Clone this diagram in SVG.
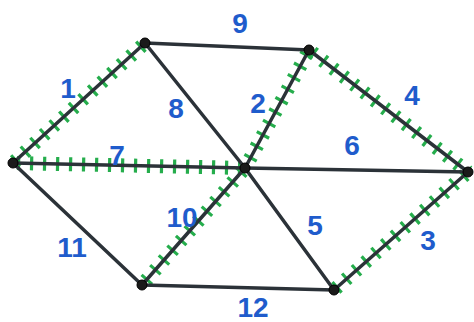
<svg xmlns="http://www.w3.org/2000/svg" width="474" height="322" viewBox="0 0 474 322">
<style>
.e{stroke:#2b3238;stroke-width:3.5;stroke-linecap:round;fill:none}
.h{stroke:#25ad4c;stroke-width:14;stroke-dasharray:3.2 9.8;stroke-dashoffset:-4;fill:none}
.n{fill:#1a1a1a;stroke:#000;stroke-width:1}
.l{font-family:"Liberation Sans",Arial,sans-serif;font-weight:bold;font-size:28px;fill:#1f5ccc;text-anchor:middle;dominant-baseline:central}
</style>
<rect width="474" height="322" fill="#fff"/>
<g id="connectors">
<g id="hatches">
<line class="h" x1="145" y1="43" x2="13" y2="163"/>
<line class="h" x1="309" y1="50" x2="245" y2="168"/>
<line class="h" x1="309" y1="50" x2="468" y2="172"/>
<line class="h" x1="13" y1="163" x2="245" y2="168"/>
<line class="h" x1="245" y1="168" x2="142" y2="285"/>
<line class="h" x1="468" y1="172" x2="334" y2="290"/>
</g>
<line class="e" x1="145" y1="43" x2="309" y2="50"/>
<line class="e" x1="145" y1="43" x2="13" y2="163"/>
<line class="e" x1="145" y1="43" x2="245" y2="168"/>
<line class="e" x1="309" y1="50" x2="245" y2="168"/>
<line class="e" x1="309" y1="50" x2="468" y2="172"/>
<line class="e" x1="13" y1="163" x2="245" y2="168"/>
<line class="e" x1="245" y1="168" x2="468" y2="172"/>
<line class="e" x1="13" y1="163" x2="142" y2="285"/>
<line class="e" x1="245" y1="168" x2="142" y2="285"/>
<line class="e" x1="245" y1="168" x2="334" y2="290"/>
<line class="e" x1="468" y1="172" x2="334" y2="290"/>
<line class="e" x1="142" y1="285" x2="334" y2="290"/>
</g>
<g id="labels">
<text class="l" x="240" y="23">9</text>
<text class="l" x="68" y="88">1</text>
<text class="l" x="176" y="108">8</text>
<text class="l" x="258" y="103">2</text>
<text class="l" x="412" y="95">4</text>
<text class="l" x="352" y="145">6</text>
<text class="l" x="117" y="155">7</text>
<text class="l" x="182" y="217">10</text>
<text class="l" x="72" y="247">11</text>
<text class="l" x="315" y="225">5</text>
<text class="l" x="428" y="240">3</text>
<text class="l" x="253" y="307">12</text>
</g>
<g id="node-a"><circle class="n" cx="145" cy="43" r="5"/></g>
<g id="node-b"><circle class="n" cx="309" cy="50" r="5"/></g>
<g id="node-c"><circle class="n" cx="13" cy="163" r="5"/></g>
<g id="node-d"><circle class="n" cx="245" cy="168" r="5"/></g>
<g id="node-e"><circle class="n" cx="468" cy="172" r="5"/></g>
<g id="node-f"><circle class="n" cx="142" cy="285" r="5"/></g>
<g id="node-g"><circle class="n" cx="334" cy="290" r="5"/></g>
</svg>
